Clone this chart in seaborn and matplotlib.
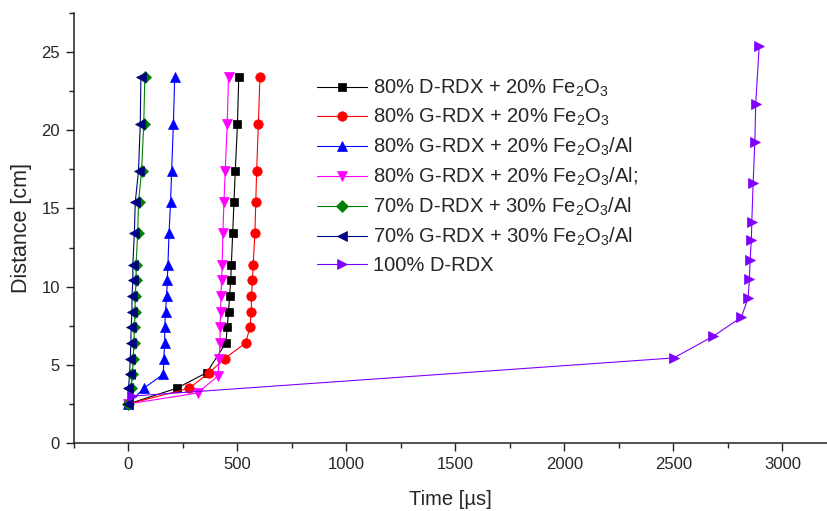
import matplotlib
matplotlib.use("Agg")
import matplotlib.pyplot as plt
from matplotlib.ticker import MultipleLocator
import pandas as pd
import seaborn as sns

# Detonation front: time of arrival [µs] at each probe distance [cm]
labels = [
    "80% D-RDX + 20% Fe$_2$O$_3$",
    "80% G-RDX + 20% Fe$_2$O$_3$",
    "80% G-RDX + 20% Fe$_2$O$_3$/Al",
    "80% G-RDX + 20% Fe$_2$O$_3$/Al;",
    "70% D-RDX + 30% Fe$_2$O$_3$/Al",
    "70% G-RDX + 30% Fe$_2$O$_3$/Al",
    "100% D-RDX",
]

d_rdx_fe_dist = [2.5, 3.5, 4.5, 6.4, 7.4, 8.4, 9.4, 10.4, 11.4, 13.4, 15.4, 17.4, 20.4, 23.4]
d_rdx_fe_time = [0, 221, 359, 447, 453, 459, 464, 469, 472, 478, 484, 490, 500, 506]

g_rdx_fe_dist = [2.5, 3.5, 4.5, 5.4, 6.4, 7.4, 8.4, 9.4, 10.4, 11.4, 13.4, 15.4, 17.4, 20.4, 23.4]
g_rdx_fe_time = [0, 278, 371, 441, 538, 557, 564, 564, 569, 572, 580, 584, 588, 596, 603]

g_rdx_feal_dist = [2.5, 3.5, 4.4, 5.4, 6.4, 7.4, 8.4, 9.4, 10.4, 11.4, 13.4, 15.4, 17.4, 20.4, 23.4]
g_rdx_feal_time = [0, 70, 160, 162, 166, 166, 170, 175, 178, 181, 186, 193, 198, 206, 212]

g_rdx_feal2_dist = [2.5, 3.2, 4.3, 5.4, 6.4, 7.4, 8.4, 9.4, 10.4, 11.4, 13.4, 15.4, 17.4, 20.4, 23.4]
g_rdx_feal2_time = [0, 318, 411, 416, 420, 420, 423, 424, 427, 430, 433, 438, 444, 453, 459]

d70_feal_dist = [2.5, 3.5, 4.4, 5.4, 6.4, 7.4, 8.4, 9.4, 10.4, 11.4, 13.4, 15.4, 17.4, 20.4, 23.4]
d70_feal_time = [0, 12, 18, 22, 25, 27, 30, 31, 35, 35, 42, 46, 60, 70, 75]

g70_feal_dist = [2.5, 3.5, 4.4, 5.4, 6.4, 7.4, 8.4, 9.4, 10.4, 11.4, 13.4, 15.4, 17.4, 20.4, 23.4]
g70_feal_time = [0, 0, 5, 8, 11, 12, 16, 16, 20, 20, 27, 31, 46, 54, 57]

d_rdx_dist = [3.0, 5.44, 6.82, 8.04, 9.27, 10.5, 11.7, 13.0, 14.16, 16.6, 19.26, 21.7, 25.4]
d_rdx_time = [16, 2502, 2682, 2812, 2843, 2849, 2852, 2858, 2860, 2866, 2874, 2878, 2894]

times = [d_rdx_fe_time, g_rdx_fe_time, g_rdx_feal_time, g_rdx_feal2_time,
         d70_feal_time, g70_feal_time, d_rdx_time]
dists = [d_rdx_fe_dist, g_rdx_fe_dist, g_rdx_feal_dist, g_rdx_feal2_dist,
         d70_feal_dist, g70_feal_dist, d_rdx_dist]

colors = ["#000000", "#FF0000", "#0000FF", "#FF00FF", "#008000", "#000080", "#7F00FF"]
markers = ["s", "o", "^", "v", "D", "<", ">"]
msizes = [5.8, 6.8, 7.0, 7.0, 5.8, 7.0, 7.0]

sns.set_style("ticks")
plt.rcParams["font.family"] = ["Liberation Sans", "DejaVu Sans"]
plt.rcParams["mathtext.fontset"] = "custom"
plt.rcParams["mathtext.rm"] = "Liberation Sans"
plt.rcParams["mathtext.it"] = "Liberation Sans:italic"
plt.rcParams["mathtext.bf"] = "Liberation Sans:bold"
plt.rcParams["mathtext.default"] = "regular"

fig = plt.figure(figsize=(8.27, 5.11), dpi=100)
ax = fig.add_axes([74 / 827, 68 / 511, 1 - 74 / 827, 430 / 511])

for lab, t, d, c, m, ms in zip(labels, times, dists, colors, markers, msizes):
    df = pd.DataFrame({"time": t, "distance": d})
    sns.lineplot(data=df, x="time", y="distance", sort=False, estimator=None,
                 ax=ax, color=c, linewidth=0.8, marker=m, markersize=ms,
                 markeredgecolor=c, markeredgewidth=0.5, label=lab)

ax.set_xlim(-250, 3205)
ax.set_ylim(0, 27.5)
ax.xaxis.set_major_locator(MultipleLocator(500))
ax.xaxis.set_minor_locator(MultipleLocator(250))
ax.yaxis.set_major_locator(MultipleLocator(5))
ax.yaxis.set_minor_locator(MultipleLocator(2.5))
ax.tick_params(which="major", direction="out", length=6, width=1, labelsize=12,
               color="#222222", pad=4)
ax.tick_params(which="minor", direction="out", length=3.5, width=1, color="#222222")
for s in ("top", "right"):
    ax.spines[s].set_visible(False)
for s in ("left", "bottom"):
    ax.spines[s].set_linewidth(1.1)
    ax.spines[s].set_color("#222222")

ax.set_xlabel("Time [µs]", fontsize=14.5, labelpad=13)
ax.set_ylabel("Distance [cm]", fontsize=15.5, labelpad=7)

handles, labs = ax.get_legend_handles_labels()
ax.legend(handles, labs, loc="upper left", bbox_to_anchor=(309 / 827, 1 - 70 / 511),
          bbox_transform=fig.transFigure, frameon=False, fontsize=14.5,
          handlelength=2.5, handletextpad=0.3, labelspacing=0.38, borderaxespad=0)

fig.savefig("out.png", dpi=100, facecolor="white")
